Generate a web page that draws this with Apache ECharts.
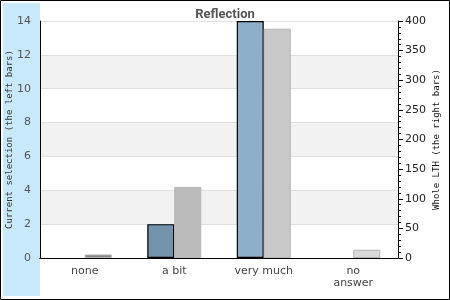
<!DOCTYPE html>
<html><head><meta charset="utf-8">
<script src="https://cdn.jsdelivr.net/npm/echarts@6/dist/echarts.min.js"></script>
<style>html,body{margin:0;padding:0;background:#fff}#c{width:450px;height:300px}</style>
</head><body><div id="c"></div>
<script>
const categories = ['none', 'a bit', 'very much', 'no\nanswer'];
const leftValues = [0, 2, 14, 0];
const rightValues = [6, 120, 387, 14];
const leftTicks = [0, 2, 4, 6, 8, 10, 12, 14];
const rightTicks = [0, 50, 100, 150, 200, 250, 300, 350, 400];
const leftColors = ['#7393ad', '#7393ad', '#8eafc9', '#8eafc9'];
const rightColors = ['#888888', '#bbbbbb', '#c8c8c8', '#d9d9d9'];

const chart = echarts.init(document.getElementById('c'), null, {renderer: 'canvas'});
chart.setOption({
  animation: false,
  backgroundColor: '#fff',
  graphic: [
    {type: 'rect', shape: {x: 3, y: 3, width: 37, height: 293}, style: {fill: '#c8e8fc'}, z: -10},
    {type: 'rect', shape: {x: 0.5, y: 0.5, width: 449, height: 299}, style: {fill: 'none', stroke: '#000', lineWidth: 1}, z: 100}
  ],
  title: {
    text: 'Reflection', left: 'center', top: 3,
    textStyle: {fontFamily: 'Roboto', fontWeight: 'bold', fontSize: 13, color: '#555'}
  },
  grid: {left: 40, right: 52, top: 21, bottom: 42, show: false, containLabel: false, outerBoundsMode: 'none'},
  xAxis: [
    {
      type: 'category', data: categories,
      axisLine: {lineStyle: {color: '#000', width: 1}},
      axisTick: {show: false},
      axisLabel: {fontFamily: 'DejaVu Sans', fontSize: 11, color: '#444', margin: 7, lineHeight: 12}
    },
    {
      type: 'category', data: categories, position: 'top',
      axisLine: {show: true, lineStyle: {color: '#000', width: 1}},
      axisTick: {show: false}, axisLabel: {show: false}, splitLine: {show: false}
    }
  ],
  yAxis: [
    {
      type: 'value', min: leftTicks[0], max: leftTicks[leftTicks.length - 1], interval: 2,
      name: 'Current selection (the left bars)', nameLocation: 'middle', nameRotate: 90, nameGap: 30,
      nameMoveOverlap: false,
      nameTextStyle: {fontFamily: 'DejaVu Sans Mono', fontSize: 9, color: '#333', verticalAlign: 'middle'},
      axisLine: {show: true, lineStyle: {color: '#000'}},
      axisTick: {show: false},
      axisLabel: {fontFamily: 'DejaVu Sans', fontSize: 11, color: '#555', margin: 9},
      splitLine: {show: true, lineStyle: {color: '#e0e0e0'}},
      splitArea: {show: true, areaStyle: {color: ['#ffffff', '#f2f2f2']}}
    },
    {
      type: 'value', min: rightTicks[0], max: rightTicks[rightTicks.length - 1], interval: 50, position: 'right',
      name: 'Whole LTH (the right bars)', nameLocation: 'middle', nameRotate: 90, nameGap: 39,
      nameMoveOverlap: false,
      nameTextStyle: {fontFamily: 'DejaVu Sans Mono', fontSize: 9, color: '#111', verticalAlign: 'middle'},
      axisLine: {show: true, lineStyle: {color: '#000'}},
      axisTick: {show: true, length: 5, lineStyle: {color: '#000'}},
      minorTick: {show: true, splitNumber: 5, length: 3, lineStyle: {color: '#000'}},
      axisLabel: {fontFamily: 'DejaVu Sans', fontSize: 11, color: '#222', margin: 7},
      splitLine: {show: false}
    }
  ],
  series: [
    {
      type: 'bar', xAxisIndex: 0, yAxisIndex: 0, barWidth: 27, barGap: '0%',
      data: leftValues.map((v, i) => ({value: v, itemStyle: {color: leftColors[i], borderColor: '#000', borderWidth: v ? 1.2 : 0}}))
    },
    {
      type: 'bar', xAxisIndex: 0, yAxisIndex: 1, barWidth: 27, barGap: '0%',
      data: rightValues.map((v, i) => ({value: v, itemStyle: {color: rightColors[i], borderColor: '#b5b5b5', borderWidth: 1}}))
    }
  ]
});
</script></body></html>
